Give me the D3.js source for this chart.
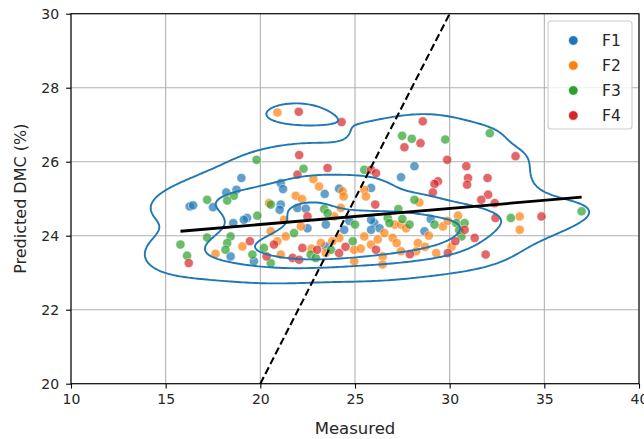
<!DOCTYPE html>
<html><head><meta charset="utf-8">
<script src="https://cdn.jsdelivr.net/npm/d3@7"></script>
<style>body{margin:0;background:#fff}svg{display:block}text{font-family:"DejaVu Sans",sans-serif;fill:#262626}</style>
</head><body><svg id="c" width="644" height="439"></svg>
<script>
// ---- data ----
const seriesNames = ["F1","F2","F3","F4"];
const colors = ["#1f77b4","#ff7f0e","#2ca02c","#d62728"];
const f1x = [19.0,21.08,21.2,18.74,18.2,23.4,16.27,16.45,17.5,21.08,21.02,21.96,22.4,19.3,18.57,19.13,23.46,18.43,19.66,28.14,27.43,24.16,25.85,26.02,25.85,24.43,22.49,25.85,28.67,23.46,24.7,26.3,29.0];
const f1y = [25.56,25.42,25.26,25.24,25.17,25.13,24.79,24.82,24.77,24.84,24.7,24.75,24.73,24.48,24.34,24.43,24.3,23.44,23.31,25.88,25.58,25.27,25.29,24.34,24.16,24.16,24.2,24.43,24.12,23.71,24.4,24.2,24.45];
const f2x = [20.9,22.8,23.1,21.87,22.2,20.46,21.25,22.14,20.55,21.34,20.9,23.2,17.63,21.08,24.34,24.4,25.49,25.58,24.25,27.09,27.43,29.64,33.7,30.44,33.7,25.49,26.55,26.99,24.17,25.85,27.43,28.32,28.23,29.29,24.96,24.96,26.46,26.46,28.4,23.9,19.05,23.46,27.7,28.9,29.9,26.2,27.2,25.3,23.8,22.7,28.7,30.1];
const f2y = [27.33,25.53,25.33,25.08,24.99,24.88,24.43,24.25,24.12,23.98,23.85,23.8,23.51,23.49,25.2,25.06,25.24,25.06,24.75,24.3,24.3,24.25,24.52,24.54,24.16,23.98,24.07,23.94,23.94,23.76,23.58,23.8,23.58,23.53,23.62,23.31,23.44,23.22,24.9,24.52,23.71,23.53,24.2,24.0,24.4,23.9,23.8,23.65,23.85,23.65,23.7,23.7];
const f3x = [19.8,22.28,18.6,17.19,18.25,20.55,23.37,19.84,18.43,21.78,18.25,15.78,20.19,18.16,16.13,19.58,22.66,22.93,20.55,27.49,28.0,29.77,32.12,25.49,28.14,26.73,27.29,26.82,27.88,30.35,30.79,33.23,30.62,24.88,23.73,23.55,17.19,36.97,30.5,27.5,25.0,29.2];
const f3y = [26.05,25.81,25.08,24.97,24.95,24.84,24.72,24.54,23.98,24.07,23.8,23.76,23.67,23.62,23.46,23.49,23.49,23.4,23.26,26.7,26.62,26.6,26.77,25.78,24.97,24.48,24.72,24.34,24.3,24.34,24.34,24.48,23.98,23.85,23.62,24.61,23.95,24.66,24.15,24.45,24.3,24.3];
const f4x = [22.03,24.29,22.05,21.96,23.55,22.49,19.45,20.72,22.22,16.22,20.33,21.7,22.05,28.58,27.61,28.46,33.48,29.87,30.88,25.85,26.11,30.97,32.0,29.38,29.2,30.92,29.11,32.03,31.67,26.07,30.79,32.42,31.32,26.11,29.9,31.9,24.16,23.0,32.38,34.85,30.3,27.9,24.5];
const f4y = [27.35,27.07,26.18,25.65,25.83,24.52,23.85,23.76,23.67,23.26,23.44,23.4,23.35,27.09,26.39,26.5,26.15,26.05,25.88,25.78,25.69,25.56,25.56,25.47,25.4,25.38,25.17,25.11,24.97,24.84,24.16,24.48,23.94,23.62,23.53,23.49,23.53,23.62,24.88,24.52,23.85,23.5,23.7];
const fitX = [15.78, 36.97];
const fitY = [24.12, 25.04];
const idX = [20, 30];
const idY = [20, 30];
const xTicks = [10,15,20,25,30,35,40];
const yTicks = [20,22,24,26,28,30];
const xLabel = "Measured";
const yLabel = "Predicted DMC (%)";

const seriesX = [f1x,f2x,f3x,f4x], seriesY = [f1y,f2y,f3y,f4y];
const points = [];
seriesX.forEach((xs,s)=>xs.forEach((x,i)=>points.push({x, y:seriesY[s][i], s})));

// ---- layout ----
const svg = d3.select("#c");
const L=71, R=639, T=13.7, B=383.7;
const x = d3.scaleLinear().domain([10,40]).range([L,R]);
const y = d3.scaleLinear().domain([20,30]).range([B,T]);

// grid
const g = svg.append("g");
g.selectAll(".gx").data(xTicks).join("line").attr("x1",d=>x(d)).attr("x2",d=>x(d)).attr("y1",T).attr("y2",B).attr("stroke","#b0b0b0").attr("stroke-width",1.1);
g.selectAll(".gy").data(yTicks).join("line").attr("y1",d=>y(d)).attr("y2",d=>y(d)).attr("x1",L).attr("x2",R).attr("stroke","#b0b0b0").attr("stroke-width",1.1);

// clip
svg.append("clipPath").attr("id","clip").append("rect").attr("x",L).attr("y",T).attr("width",R-L).attr("height",B-T);
const plot = svg.append("g").attr("clip-path","url(#clip)");

// scatter
plot.selectAll("circle.pt").data(points).join("circle")
  .attr("cx",d=>x(d.x)).attr("cy",d=>y(d.y)).attr("r",4.6)
  .attr("fill",d=>colors[d.s]).attr("fill-opacity",0.7)
  .attr("stroke","#fff").attr("stroke-width",0.7).attr("stroke-opacity",0.7);

// KDE (gaussian, scott bandwidth, full covariance) + iso-proportion levels
const n = points.length;
const mx = d3.mean(points,d=>d.x), my = d3.mean(points,d=>d.y);
let cxx=0,cyy=0,cxy=0;
points.forEach(p=>{cxx+=(p.x-mx)**2; cyy+=(p.y-my)**2; cxy+=(p.x-mx)*(p.y-my);});
cxx/=(n-1); cyy/=(n-1); cxy/=(n-1);
const bwAdjust = 0.92;
const fac = Math.pow(n,-1/6)*bwAdjust;
const kxx=cxx*fac*fac, kyy=cyy*fac*fac, kxy=cxy*fac*fac;
const det = kxx*kyy-kxy*kxy;
const ixx=kyy/det, iyy=kxx/det, ixy=-kxy/det;
const N=200, cut=3;
const bx=Math.sqrt(kxx), by=Math.sqrt(kyy);
const x0=d3.min(points,d=>d.x)-cut*bx, x1=d3.max(points,d=>d.x)+cut*bx;
const y0=d3.min(points,d=>d.y)-cut*by, y1=d3.max(points,d=>d.y)+cut*by;
const dx=(x1-x0)/(N-1), dy=(y1-y0)/(N-1);
const vals = new Float64Array(N*N);
for(let j=0;j<N;j++){const yy=y0+j*dy;for(let i=0;i<N;i++){const xx=x0+i*dx;let s=0;
  for(const p of points){const a=xx-p.x,b=yy-p.y;s+=Math.exp(-0.5*(ixx*a*a+2*ixy*a*b+iyy*b*b));}
  vals[j*N+i]=s;}}
const sorted = Array.from(vals).sort((a,b)=>b-a);
const total = d3.sum(sorted);
const cum=[];let acc=0;for(const v of sorted){acc+=v;cum.push(acc/total);}
const props = d3.range(4).map(k=>0.05+k*(0.95/3)).slice(0,3);
const levels = props.map(p=>{const idx=d3.bisectLeft(cum,1-p);return sorted[Math.min(idx,sorted.length-1)];});
const contours = d3.contours().size([N,N]).thresholds(levels)(vals);
const proj = d3.geoTransform({point(px,py){this.stream.point(x(x0+(px-0.5)*dx), y(y0+(py-0.5)*dy));}});
const path = d3.geoPath(proj);
plot.selectAll("path.kde").data(contours).join("path").attr("d",path)
  .attr("fill","none").attr("stroke","#1f77b4").attr("stroke-width",1.9);

// lines
const line = d3.line().x(d=>x(d[0])).y(d=>y(d[1]));
plot.append("path").attr("d",line(idX.map((v,i)=>[v,idY[i]]))).attr("fill","none").attr("stroke","#000").attr("stroke-width",2.1).attr("stroke-dasharray","7.5,3.5");
plot.append("path").attr("d",line(fitX.map((v,i)=>[v,fitY[i]]))).attr("fill","none").attr("stroke","#000").attr("stroke-width",2.8);

// axes
const xa = svg.append("g").attr("transform",`translate(0,${B})`).call(d3.axisBottom(x).tickValues(xTicks).tickSize(4.9).tickPadding(5).tickFormat(d3.format("d")));
const ya = svg.append("g").attr("transform",`translate(${L},0)`).call(d3.axisLeft(y).tickValues(yTicks).tickSize(4.9).tickPadding(7).tickFormat(d3.format("d")));
[xa,ya].forEach(a=>{a.select(".domain").remove();a.selectAll("line").attr("stroke","#000").attr("stroke-width",1.1);a.selectAll("text").style("font-size","14px").attr("fill","#262626").style("font-family","DejaVu Sans");});
svg.append("rect").attr("x",L).attr("y",T).attr("width",R-L).attr("height",B-T).attr("fill","none").attr("stroke","#000").attr("stroke-width",1.1);

svg.append("text").attr("x",(L+R)/2).attr("y",434).attr("text-anchor","middle").style("font-size","16.5px").text(xLabel);
svg.append("text").attr("transform",`translate(26,${(T+B)/2}) rotate(-90)`).attr("text-anchor","middle").style("font-size","16px").text(yLabel);

// legend
const lg = svg.append("g");
lg.append("rect").attr("x",548).attr("y",21).attr("width",84).attr("height",108).attr("rx",3).attr("fill","#fff").attr("fill-opacity",0.8).attr("stroke","#cccccc").attr("stroke-width",1.1);
const ly = d3.scalePoint().domain(seriesNames).range([40.5,115.5]);
seriesNames.forEach((nm,i)=>{
  lg.append("circle").attr("cx",573.3).attr("cy",ly(nm)).attr("r",4.8).attr("fill",colors[i]).attr("stroke","#fff").attr("stroke-width",0.7);
  lg.append("text").attr("x",602).attr("y",ly(nm)).attr("dy","0.36em").style("font-size","15.5px").text(nm);
});
</script></body></html>
